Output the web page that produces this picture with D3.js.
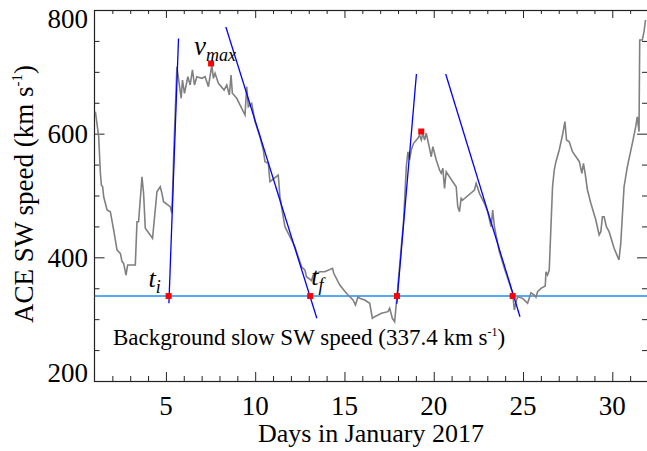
<!DOCTYPE html>
<html>
<head>
<meta charset="utf-8">
<script src="https://cdnjs.cloudflare.com/ajax/libs/d3/7.8.5/d3.min.js"></script>
<style>
  body { margin: 0; background: #fff; }
  svg text { font-family: "Liberation Serif", "Times New Roman", serif; fill: #000; }
</style>
</head>
<body>
<div id="sw_chart"></div>
<script>
// ACE solar wind speed, January 2017
var days = [1.05,1.235,1.33,1.385,1.458,1.514,1.704,1.888,2.073,2.263,
  2.447,2.542,2.631,2.765,2.855,3.285,3.38,3.469,3.659,3.749,
  3.844,4.251,4.402,4.497,4.682,4.777,4.866,5.24,5.335,5.464,
  5.615,5.855,5.927,6.039,6.229,6.358,6.486,6.598,6.732,7.011,
  7.196,7.38,7.57,7.66,7.754,7.939,8.257,8.408,8.553,8.648,
  8.721,8.966,9.246,9.43,9.525,9.615,9.804,9.989,10.268,10.453,
  10.547,10.732,10.827,11.291,11.385,11.536,11.665,11.944,12.224,12.408,
  12.598,12.782,12.877,13.156,13.246,13.62,13.899,14.33,14.40,14.737,
  15.11,15.48,15.615,15.76,15.855,16.134,16.413,16.564,16.693,17.067,
  17.436,17.531,17.682,17.81,17.94,18.313,18.464,18.553,18.648,18.743,
  18.872,19.112,19.207,19.302,19.39,19.486,19.58,19.765,19.86,19.95,
  20.14,20.324,20.419,20.51,20.603,20.698,21.067,21.257,21.346,21.441,
  21.536,21.626,22.28,22.374,22.559,22.838,23.022,23.212,23.302,23.397,
  23.676,23.955,24.235,24.419,24.514,24.609,24.698,24.978,25.257,25.447,
  25.631,25.726,25.816,26.006,26.246,26.285,26.374,26.469,26.564,26.654,
  26.749,26.844,27.028,27.212,27.346,27.436,27.587,27.771,28.156,28.296,
  28.385,28.48,28.609,28.799,29.078,29.263,29.358,29.447,29.542,29.67,
  29.821,30.101,30.374,30.475,30.659,30.844,31.123,31.313,31.402,31.497,
  31.536,31.682,31.777,31.86];
var speed = [635.5,595,536,517,514,498,476.5,473.8,444.2,411.8,
  406.5,393,390.3,371.4,387.6,387.6,457.6,457.6,530.4,503.5,
  446.9,430.8,476.5,506.1,514.2,503.5,490,481.9,471.2,589.8,
  708.3,657.2,686.8,665.3,692.1,678.7,703,678.7,692.1,689.5,
  692.1,676,711,689.5,697.6,681.4,670.6,678.7,662.5,694.9,
  665.3,657.2,641,630.2,676,643.6,649.1,619.4,595.1,573.6,
  554.7,552.1,522.3,533.1,498.1,471.2,449.5,433.4,417.2,401,
  384.8,379.5,368.7,362.2,371.4,376.8,376.8,382.3,374.2,355.2,
  341.8,331,322.9,336.3,333.7,331,325.6,301.4,304,309.5,
  312.1,317.6,301.4,295.9,336.3,460.4,546.6,570.8,557.4,573.6,
  584.4,592.5,597.8,589.8,600.6,589.8,600.6,576.3,562.7,578.9,
  557.4,541.2,535.9,544,511.6,538.5,522.3,514.2,481.9,473.8,
  495.5,492.7,508.9,519.7,503.5,487.4,473.8,449.5,476.5,449.5,
  409.1,382.2,358,341.8,314.8,328.2,336.3,333.7,325.6,342.8,
  339.1,335.4,344.4,349.9,353.6,376.7,371.4,379.5,449.5,514.2,
  541.2,554.7,573.6,597.8,619.4,589.8,587,570.8,554.7,535.9,
  552.1,535.9,508.9,487.4,460.4,436.1,441.5,465.7,465.7,449.5,
  441.5,414.6,395.7,422.7,514.2,546.6,584.4,611.3,627.4,603.2,
  751.5,751.5,764.9,783.8];

// background slow wind speed
var bgSpeed = 337.4;

// red markers: t_i, v_max, t_f of each stream
var markDays  = [5.15, 7.53, 13.08, 17.94, 19.3, 24.42];
var markSpeed = [337.4, 713.5, 337.4, 337.4, 603.5, 337.4];

// blue fitted lines (start day, start speed, end day, end speed)
var fitDay0   = [5.168, 8.359, 17.93, 20.67];
var fitSpeed0 = [325.6, 772.5, 325.0, 696.5];
var fitDay1   = [5.705, 13.453, 19.03, 24.83];
var fitSpeed1 = [754.0, 301.4, 696.5, 304.0];

var xTicks = [5, 10, 15, 20, 25, 30];
var yTicks = [200, 400, 600, 800];

var W = 647, H = 451;
var pL = 94.5, pR = 648, pT = 10, pB = 381;

var svg = d3.select("#sw_chart")
  .append("svg")
    .attr("width", W)
    .attr("height", H);

var x = d3.scaleLinear().domain([1, 32]).range([pL, pR]);
var y = d3.scaleLinear().domain([200, 800]).range([pB, pT]);

var xMinor = d3.range(2, 32).filter(function(d) { return d % 5 != 0; });
var yMinor = d3.range(250, 800, 50).filter(function(d) { return d % 200 != 0; });

// clip so the data stays inside the frame
svg.append("clipPath").attr("id", "plotclip")
  .append("rect")
    .attr("x", pL).attr("y", pT)
    .attr("width", pR - pL).attr("height", pB - pT);

// ticks (inward), no labels
function ticks(axis, pos, vals, size) {
  var g = svg.append("g")
    .attr("transform", pos)
    .call(axis.tickValues(vals).tickSize(size).tickSizeOuter(0).tickFormat(""));
  g.select(".domain").remove();
  g.selectAll("line").attr("stroke", "#222").attr("stroke-width", 1);
}
ticks(d3.axisBottom(x), "translate(0," + pB + ")", xTicks, -9);
ticks(d3.axisBottom(x), "translate(0," + pB + ")", xMinor, -5);
ticks(d3.axisTop(x), "translate(0," + pT + ")", xTicks, -8);
ticks(d3.axisTop(x), "translate(0," + pT + ")", xMinor, -4);
ticks(d3.axisLeft(y), "translate(" + pL + ",0)", yTicks, -10);
ticks(d3.axisLeft(y), "translate(" + pL + ",0)", yMinor, -5);
ticks(d3.axisRight(y), "translate(" + (pR - 1) + ",0)", yTicks, -10);
ticks(d3.axisRight(y), "translate(" + (pR - 1) + ",0)", yMinor, -5);

// frame
svg.append("rect")
  .attr("x", pL).attr("y", pT + 0.5)
  .attr("width", pR - pL).attr("height", pB - pT)
  .attr("fill", "none")
  .attr("stroke", "#222")
  .attr("stroke-width", 1.2);

// tick labels
svg.selectAll(".xlab")
  .data(xTicks)
  .enter()
  .append("text")
    .attr("x", function(d) { return x(d); })
    .attr("y", 415)
    .attr("text-anchor", "middle")
    .style("font-size", "27px")
    .text(function(d) { return d; });

svg.selectAll(".ylab")
  .data(yTicks)
  .enter()
  .append("text")
    .attr("x", 88)
    .attr("y", function(d) {
      if (d == 800) return y(d) + 18;
      if (d == 200) return y(d) + 0.5;
      return y(d) + 9.5;
    })
    .attr("text-anchor", "end")
    .style("font-size", "27px")
    .text(function(d) { return d; });

// axis titles
svg.append("text")
  .attr("x", 371)
  .attr("y", 442)
  .attr("text-anchor", "middle")
  .style("font-size", "26px")
  .text("Days in January 2017");

var yt = svg.append("text")
  .attr("transform", "translate(33,194) rotate(-90)")
  .attr("text-anchor", "middle")
  .style("font-size", "27px");
yt.append("tspan").text("ACE SW speed (km s");
yt.append("tspan").attr("dy", -11).style("font-size", "15px").text("-1");
yt.append("tspan").attr("dy", 11).text(")");

var plot = svg.append("g").attr("clip-path", "url(#plotclip)");

// background speed line
plot.append("line")
  .attr("x1", pL).attr("x2", pR)
  .attr("y1", y(bgSpeed)).attr("y2", y(bgSpeed))
  .attr("stroke", "#1e8cf0")
  .attr("stroke-width", 1.5);

// SW speed trace
var pts = days.map(function(d, i) { return [d, speed[i]]; });
plot.append("path")
  .datum(pts)
  .attr("fill", "none")
  .attr("stroke", "#808080")
  .attr("stroke-width", 1.6)
  .attr("d", d3.line()
    .x(function(d) { return x(d[0]); })
    .y(function(d) { return y(d[1]); }));

// fitted lines
plot.selectAll(".fit")
  .data(fitDay0)
  .enter()
  .append("line")
    .attr("x1", function(d) { return x(d); })
    .attr("y1", function(d, i) { return y(fitSpeed0[i]); })
    .attr("x2", function(d, i) { return x(fitDay1[i]); })
    .attr("y2", function(d, i) { return y(fitSpeed1[i]); })
    .attr("stroke", "#0000ff")
    .attr("stroke-width", 1.3);

// markers
plot.selectAll(".mark")
  .data(markDays)
  .enter()
  .append("rect")
    .attr("x", function(d) { return x(d) - 3; })
    .attr("y", function(d, i) { return y(markSpeed[i]) - 3; })
    .attr("width", 6)
    .attr("height", 6)
    .attr("fill", "#ff0000");

// annotations
function label(px, py, main, sub, sz) {
  var t = svg.append("text")
    .attr("x", px).attr("y", py)
    .style("font-style", "italic")
    .style("font-size", sz + "px");
  t.append("tspan").text(main);
  t.append("tspan").attr("dy", 6).style("font-size", "18px").text(sub);
}
label(x(markDays[0]) - 20, 287, "t", "i", 26);
label(x(markDays[1]) - 17, 55, "v", "max", 27);
label(x(markDays[2]) + 1, 285, "t", "f", 26);

var bt = svg.append("text")
  .attr("x", 113)
  .attr("y", 345)
  .style("font-size", "23px");
bt.append("tspan").text("Background slow SW speed (337.4 km s");
bt.append("tspan").attr("dy", -9).style("font-size", "12px").text("-1");
bt.append("tspan").attr("dy", 9).text(")");
</script>
</body>
</html>
